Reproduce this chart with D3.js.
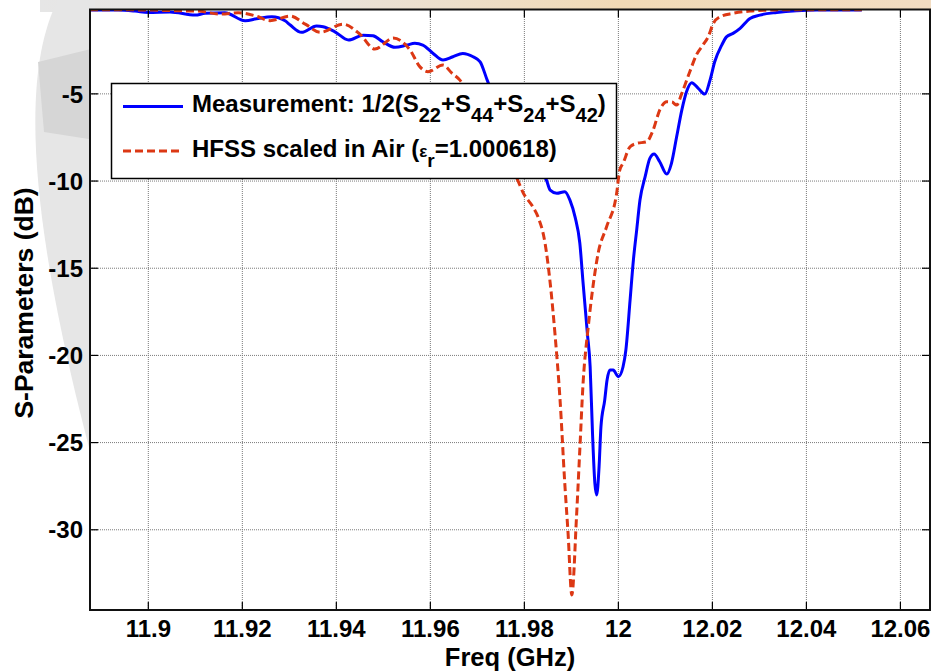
<!DOCTYPE html>
<html>
<head>
<meta charset="utf-8">
<script src="https://cdn.jsdelivr.net/npm/d3@7"></script>
<style>
  body { margin: 0; background: #fff; }
  svg { display: block; font-family: "Liberation Sans", Arial, sans-serif; font-weight: bold; }
</style>
</head>
<body>
<div id="chart-area"></div>
<script>
// measured curve: 1/2(S22+S44+S24+S42)
var measFreq = [11.8877, 11.8937, 11.8973, 11.9001, 11.9047, 11.9101, 11.9122, 11.9164, 11.9207, 11.9235,
  11.9264, 11.9292, 11.9303, 11.9327, 11.9359, 11.9373, 11.9398, 11.9427, 11.9458, 11.9479,
  11.9500, 11.9526, 11.9551, 11.9568, 11.9585, 11.9607, 11.9628, 11.9649, 11.9670, 11.9692,
  11.9707, 11.9722, 11.9749, 11.9792, 11.9834, 11.9848, 11.9856, 11.9870, 11.9887, 11.9898,
  11.9909, 11.9919, 11.9926, 11.9935, 11.9941, 11.9946, 11.9951, 11.9955, 11.9960, 11.9964,
  11.9972, 11.9977, 11.9983, 11.9990, 12.0001, 12.0011, 12.0017, 12.0026, 12.0033, 12.0040,
  12.0047, 12.0058, 12.0068, 12.0077, 12.0089, 12.0104, 12.0114, 12.0125, 12.0136, 12.0146,
  12.0157, 12.0171, 12.0185, 12.0196, 12.0206, 12.0221, 12.0231, 12.0245, 12.0260, 12.0281,
  12.0302, 12.0338, 12.0380, 12.0423, 12.0519];
var measDb = [-0.22, -0.22, -0.28, -0.36, -0.33, -0.51, -0.41, -0.38, -0.84, -0.70,
  -0.61, -0.84, -1.08, -1.50, -1.14, -1.18, -1.47, -1.94, -1.66, -1.70,
  -2.04, -2.36, -2.23, -2.13, -2.23, -2.71, -3.09, -2.90, -2.71, -2.90,
  -3.19, -4.24, -6.0, -7.9, -9.4, -9.97, -10.55, -10.73, -10.64, -11.12,
  -12.1, -13.58, -15.88, -18.74, -20.68, -24.48, -27.35, -28.03, -26.41, -24.12,
  -22.59, -21.44, -20.87, -20.87, -21.25, -20.68, -19.72, -16.85, -14.56, -12.84,
  -11.12, -9.78, -8.73, -8.48, -8.92, -9.63, -9.01, -7.49, -5.96, -4.91,
  -4.39, -4.71, -5.04, -4.24, -3.19, -2.23, -1.76, -1.56, -1.27, -0.70,
  -0.51, -0.36, -0.26, -0.22, -0.22];

// HFSS simulation scaled in air
var hfssFreq = [11.8877, 11.9009, 11.9054, 11.9105, 11.9154, 11.9192, 11.9228, 11.9260, 11.9303, 11.9335,
  11.9367, 11.9415, 11.9451, 11.9483, 11.9522, 11.9558, 11.9579, 11.9596, 11.9628, 11.9647,
  11.9664, 11.9707, 11.9749, 11.9785, 11.9799, 11.9819, 11.9830, 11.9845, 11.9856, 11.9866,
  11.9877, 11.9887, 11.9894, 11.9902, 11.9912, 11.9919, 11.9926, 11.9937, 11.9948, 11.9958,
  11.9976, 11.9997, 12.0004, 12.0011, 12.0026, 12.0040, 12.0061, 12.0075, 12.0089, 12.0104,
  12.0115, 12.0125, 12.0136, 12.0153, 12.0167, 12.0181, 12.0192, 12.0203, 12.0217, 12.0245,
  12.0281, 12.0330, 12.0359, 12.0519];
var hfssDb = [-0.20, -0.22, -0.26, -0.28, -0.45, -0.38, -0.55, -0.83, -0.57, -1.03,
  -1.50, -1.03, -1.60, -2.46, -1.83, -2.52, -3.48, -3.76, -3.38, -3.84,
  -4.24, -6.4, -8.3, -9.86, -10.73, -11.50, -12.08, -13.58, -15.88, -18.74,
  -22.59, -27.35, -30.21, -33.77, -29.28, -25.45, -21.61, -18.38, -15.88, -14.17,
  -12.65, -10.8, -9.40, -9.01, -8.06, -7.87, -7.78, -7.10, -5.96, -5.48,
  -5.50, -5.67, -5.00, -3.76, -2.80, -2.23, -1.76, -0.99, -0.61, -0.41,
  -0.28, -0.22, -0.20, -0.20];

var xTicks = [11.9, 11.92, 11.94, 11.96, 11.98, 12, 12.02, 12.04, 12.06];
var xTickLabels = ["11.9", "11.92", "11.94", "11.96", "11.98", "12", "12.02", "12.04", "12.06"];
var yTicks = [-30, -25, -20, -15, -10, -5];
var yTickLabels = ["-30", "-25", "-20", "-15", "-10", "-5"];

var W = 931, H = 672;
var m = { left: 90, right: 930, top: 9.5, bottom: 610 };

var svg = d3.select("#chart-area").append("svg")
    .attr("width", W)
    .attr("height", H);

// faint backdrop picture behind the figure
var defs = svg.append("defs");
var grad = defs.append("linearGradient").attr("id", "topband");
grad.append("stop").attr("offset", "0%").attr("stop-color", "#e6e6e6");
grad.append("stop").attr("offset", "30%").attr("stop-color", "#e9e3dc");
grad.append("stop").attr("offset", "65%").attr("stop-color", "#f1dab6");
grad.append("stop").attr("offset", "100%").attr("stop-color", "#f2dcc2");
svg.append("rect").attr("x", 40).attr("y", 0).attr("width", 891).attr("height", 12).attr("fill", "url(#topband)");
svg.append("path")
    .attr("d", "M58,0 C22,70 25,210 95,470 L95,0 Z")
    .attr("fill", "#e6e6e6");
svg.append("path")
    .attr("d", "M38,62 L95,48 L95,140 L44,132 Z")
    .attr("fill", "#d6d6d6");

defs.append("clipPath").attr("id", "plotclip")
  .append("rect")
    .attr("x", m.left).attr("y", m.top)
    .attr("width", m.right - m.left).attr("height", m.bottom - m.top);

var x = d3.scaleLinear()
    .domain([11.8877, 12.0664])
    .range([m.left, m.right]);

var y = d3.scaleLinear()
    .domain([-34.63, -0.19])
    .range([m.bottom, m.top]);

svg.append("rect")
    .attr("x", m.left).attr("y", m.top)
    .attr("width", m.right - m.left).attr("height", m.bottom - m.top)
    .attr("fill", "#fff");

// dotted grid
var gx = svg.append("g")
    .attr("transform", "translate(0," + m.bottom + ")")
    .call(d3.axisBottom(x).tickValues(xTicks).tickSize(-(m.bottom - m.top)).tickFormat(""));
var gy = svg.append("g")
    .attr("transform", "translate(" + m.left + ",0)")
    .call(d3.axisLeft(y).tickValues(yTicks).tickSize(-(m.right - m.left)).tickFormat(""));
[gx, gy].forEach(function(g) {
    g.select(".domain").remove();
    g.selectAll("line")
        .attr("stroke", "#7a7a7a")
        .attr("stroke-width", 1)
        .attr("stroke-dasharray", "1,1");
});

// curves
var meas = measFreq.map(function(f, i) { return { f: f, v: measDb[i] }; });
var hfss = hfssFreq.map(function(f, i) { return { f: f, v: hfssDb[i] }; });

var line = d3.line()
    .x(function(d) { return x(d.f); })
    .y(function(d) { return y(d.v); })
    .curve(d3.curveMonotoneX);

var plot = svg.append("g").attr("clip-path", "url(#plotclip)");
plot.append("path")
    .datum(meas)
    .attr("fill", "none")
    .attr("stroke", "#0000ff")
    .attr("stroke-width", 3)
    .attr("stroke-linejoin", "round")
    .attr("d", line);
plot.append("path")
    .datum(hfss)
    .attr("fill", "none")
    .attr("stroke", "#dc3814")
    .attr("stroke-width", 3)
    .attr("stroke-dasharray", "8,4")
    .attr("d", line);

// axes with inward ticks on all four sides
var xAxis = svg.append("g")
    .attr("transform", "translate(0," + m.bottom + ")")
    .call(d3.axisBottom(x).tickValues(xTicks).tickSize(-8).tickFormat(function(d, i) { return xTickLabels[i]; }));
var yAxis = svg.append("g")
    .attr("transform", "translate(" + m.left + ",0)")
    .call(d3.axisLeft(y).tickValues(yTicks).tickSize(-8).tickFormat(function(d, i) { return yTickLabels[i]; }));
var topAxis = svg.append("g")
    .attr("transform", "translate(0," + m.top + ")")
    .call(d3.axisTop(x).tickValues(xTicks).tickSize(-8).tickFormat(""));
var rightAxis = svg.append("g")
    .attr("transform", "translate(" + m.right + ",0)")
    .call(d3.axisRight(y).tickValues(yTicks).tickSize(-8).tickFormat(""));

xAxis.selectAll("text")
    .attr("y", 27)
    .attr("dy", 0);
yAxis.selectAll("text")
    .attr("x", -7)
    .attr("dy", "0.36em");
[xAxis, yAxis].forEach(function(g) {
    g.selectAll("text")
        .attr("font-size", "24px")
        .attr("font-family", "Liberation Sans, Arial, sans-serif")
        .attr("font-weight", "bold")
        .attr("fill", "#000");
});
[xAxis, yAxis, topAxis, rightAxis].forEach(function(g) {
    g.select(".domain").remove();
    g.selectAll(".tick line")
        .attr("stroke", "#000")
        .attr("stroke-width", 1.2);
});

svg.append("rect")
    .attr("x", m.left).attr("y", m.top)
    .attr("width", m.right - m.left).attr("height", m.bottom - m.top)
    .attr("fill", "none")
    .attr("stroke", "#111")
    .attr("stroke-width", 2);

// axis titles
svg.append("text")
    .attr("x", (m.left + m.right) / 2)
    .attr("y", 666)
    .attr("text-anchor", "middle")
    .attr("font-size", "25.5px")
    .text("Freq (GHz)");

svg.append("text")
    .attr("transform", "translate(33,303) rotate(-90)")
    .attr("text-anchor", "middle")
    .attr("font-size", "26.5px")
    .text("S-Parameters (dB)");

// legend
var lg = svg.append("g");
lg.append("rect")
    .attr("x", 111.5).attr("y", 83.5)
    .attr("width", 505).attr("height", 95)
    .attr("fill", "#fff")
    .attr("stroke", "#000")
    .attr("stroke-width", 1.5);

lg.append("line")
    .attr("x1", 123).attr("x2", 183).attr("y1", 106.5).attr("y2", 106.5)
    .attr("stroke", "#0000ff").attr("stroke-width", 3);
lg.append("line")
    .attr("x1", 123).attr("x2", 183).attr("y1", 151).attr("y2", 151)
    .attr("stroke", "#dc3814").attr("stroke-width", 3).attr("stroke-dasharray", "8,4");

var t1 = lg.append("text").attr("x", 192).attr("y", 112).attr("font-size", "24px");
t1.append("tspan").text("Measurement: 1/2(S");
var subs = ["22", "44", "24", "42"];
subs.forEach(function(s, i) {
    t1.append("tspan").attr("dy", 10).attr("font-size", "20px").text(s);
    t1.append("tspan").attr("dy", -10).text(i < 3 ? "+S" : ")");
});

var t2 = lg.append("text").attr("x", 192).attr("y", 157).attr("font-size", "24px");
t2.append("tspan").text("HFSS scaled in Air (");
t2.append("tspan").attr("font-size", "17px").text("ε");
t2.append("tspan").attr("dy", 10).attr("font-size", "19px").text("r");
t2.append("tspan").attr("dy", -10).text("=1.000618)");
</script>
</body>
</html>
